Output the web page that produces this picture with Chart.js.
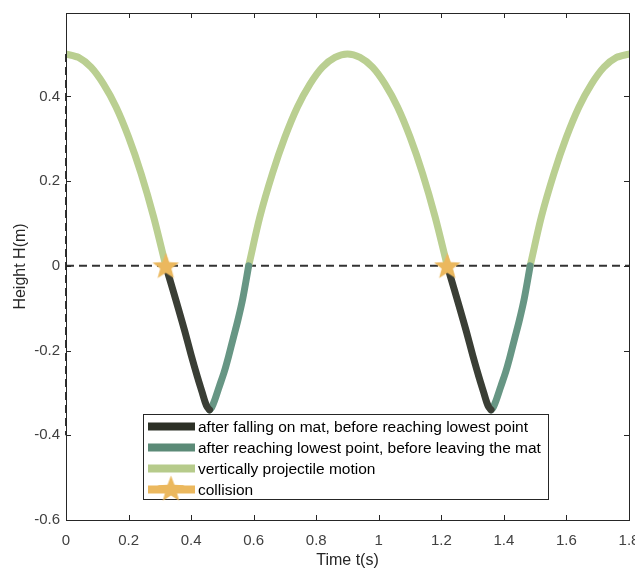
<!DOCTYPE html>
<html>
<head>
<meta charset="utf-8">
<script src="https://cdn.jsdelivr.net/npm/chart.js@4.4.1/dist/chart.umd.min.js"></script>
<style>
  html, body { margin: 0; padding: 0; background: #fff; }
  #chart { display: block; }
</style>
</head>
<body>
<canvas id="chart" width="635" height="570"></canvas>
<script>
// ---- data ----
// projectile phases
const flight1T = [0, 0.04, 0.08, 0.12, 0.16, 0.2, 0.24, 0.28, 0.319];
const flight1H = [0.5, 0.492, 0.469, 0.429, 0.375, 0.304, 0.218, 0.116, 0];
const flight2T = [0.584, 0.62, 0.66, 0.7, 0.74, 0.78, 0.82, 0.86, 0.9, 0.94, 0.98, 1.02, 1.06, 1.1, 1.14, 1.18, 1.219];
const flight2H = [0, 0.116, 0.218, 0.304, 0.375, 0.429, 0.469, 0.492, 0.5, 0.492, 0.469, 0.429, 0.375, 0.304, 0.218, 0.116, 0];
const flight3T = [1.484, 1.52, 1.56, 1.6, 1.64, 1.68, 1.72, 1.76, 1.8];
const flight3H = [0, 0.116, 0.218, 0.304, 0.375, 0.429, 0.469, 0.492, 0.5];

// on the mat, going down
const fall1T = [0.319, 0.34, 0.36, 0.38, 0.4, 0.42, 0.435, 0.445, 0.452, 0.459];
const fall1H = [0, -0.052, -0.103, -0.155, -0.21, -0.262, -0.298, -0.322, -0.334, -0.34];
const fall2T = [1.219, 1.24, 1.26, 1.28, 1.3, 1.32, 1.335, 1.345, 1.352, 1.359];
const fall2H = [0, -0.052, -0.103, -0.155, -0.21, -0.262, -0.298, -0.322, -0.334, -0.34];

// on the mat, coming back up
const rise1T = [0.459, 0.466, 0.475, 0.49, 0.506, 0.52, 0.535, 0.549, 0.565, 0.584];
const rise1H = [-0.34, -0.334, -0.318, -0.285, -0.25, -0.213, -0.17, -0.13, -0.078, 0];
const rise2T = [1.359, 1.366, 1.375, 1.39, 1.406, 1.42, 1.435, 1.449, 1.465, 1.484];
const rise2H = [-0.34, -0.334, -0.318, -0.285, -0.25, -0.213, -0.17, -0.13, -0.078, 0];

const collisionT = [0.319, 1.219];
const collisionH = [0, 0];

const zeroLineT = [0, 1.8];
const zeroLineH = [0, 0];
const startLineT = [0, 0];
const startLineH = [0.5, -0.4];

const xTicks = [0, 0.2, 0.4, 0.6, 0.8, 1, 1.2, 1.4, 1.6, 1.8];
const yTicks = [-0.6, -0.4, -0.2, 0, 0.2, 0.4];

// ---- styles ----
const colFall = "#3a3e35";
const colRise = "#679684";
const colFlight = "#bacf91";
const colStar = "#ebb85e";
const colAxis = "#262626";
const colText = "#404040";
const FONT = "'Liberation Sans', Arial, sans-serif";

// ---- helpers ----
function pts(xs, ys) {
  return xs.map((x, i) => ({ x: x, y: ys[i] }));
}

function fmt(v) {
  return String(Math.round(v * 10) / 10);
}

function makeStar(size, color) {
  const c = document.createElement("canvas");
  c.width = size;
  c.height = size;
  const g = c.getContext("2d");
  const cx = size / 2, cy = size / 2 + 1;
  const ro = size / 2 - 0.5, ri = ro * 0.42;
  g.beginPath();
  for (let i = 0; i < 10; i++) {
    const r = i % 2 === 0 ? ro : ri;
    const a = -Math.PI / 2 + (i * Math.PI) / 5;
    const px = cx + r * Math.cos(a), py = cy + r * Math.sin(a);
    if (i === 0) g.moveTo(px, py);
    else g.lineTo(px, py);
  }
  g.closePath();
  g.fillStyle = color;
  g.fill();
  return c;
}

const starImg = makeStar(29, colStar);

function curve(label, xs, ys, color, legend) {
  return {
    label: label,
    data: pts(xs, ys),
    showLine: true,
    borderColor: color,
    backgroundColor: color,
    borderWidth: 7,
    borderCapStyle: "round",
    borderJoinStyle: "round",
    pointRadius: 0,
    pointHoverRadius: 0,
    tension: 0.3,
    clip: 0,
    order: 5,
    legend: legend,
  };
}

function dashed(xs, ys) {
  return {
    label: "",
    data: pts(xs, ys),
    showLine: true,
    borderColor: "#333333",
    borderWidth: 2,
    borderDash: [8, 5],
    pointRadius: 0,
    pointHoverRadius: 0,
    clip: false,
    order: 10,
  };
}

// keep the plot box where the figure has it: no extra room for edge labels
function noEdgePad(s) {
  s.paddingLeft = 0;
  s.paddingRight = 0;
  s.paddingTop = 0;
  s.paddingBottom = 0;
}

// ---- plugins ----
const frame = {
  id: "frame",
  afterDatasetsDraw(chart) {
    const { ctx, chartArea: a, scales } = chart;
    ctx.save();
    ctx.strokeStyle = colAxis;
    ctx.lineWidth = 1;
    ctx.beginPath();
    xTicks.forEach((v) => {
      const px = Math.round(scales.x.getPixelForValue(v)) + 0.5;
      ctx.moveTo(px, a.bottom);
      ctx.lineTo(px, a.bottom - 5);
      ctx.moveTo(px, a.top);
      ctx.lineTo(px, a.top + 5);
    });
    yTicks.forEach((v) => {
      const py = Math.round(scales.y.getPixelForValue(v)) + 0.5;
      ctx.moveTo(a.left, py);
      ctx.lineTo(a.left + 5, py);
      ctx.moveTo(a.right, py);
      ctx.lineTo(a.right - 5, py);
    });
    ctx.stroke();
    ctx.strokeRect(Math.round(a.left) + 0.5, Math.round(a.top) + 0.5,
      Math.round(a.right - a.left), Math.round(a.bottom - a.top));
    ctx.restore();
  },
};

const boxLegend = {
  id: "boxLegend",
  afterDraw(chart) {
    const { ctx } = chart;
    const items = chart.data.datasets.filter((d) => d.legend);
    const bx = 143.5, by = 414.5, bw = 405, bh = 85;
    ctx.save();
    ctx.fillStyle = "#ffffff";
    ctx.fillRect(bx, by, bw, bh);
    ctx.strokeStyle = colAxis;
    ctx.lineWidth = 1;
    ctx.strokeRect(bx, by, bw, bh);
    ctx.font = "15.5px " + FONT;
    ctx.textBaseline = "middle";
    items.forEach((d, i) => {
      const y = by + 12 + i * 21;
      ctx.strokeStyle = d.legend;
      ctx.lineWidth = 8;
      ctx.beginPath();
      ctx.moveTo(148, y);
      ctx.lineTo(195, y);
      ctx.stroke();
      if (d.pointStyle) ctx.drawImage(d.pointStyle, 171 - 14.5, y - 15.5);
      ctx.fillStyle = "#000000";
      ctx.fillText(d.label, 198, y + 1);
    });
    ctx.restore();
  },
};

// ---- chart ----
const datasets = [
  {
    label: "collision",
    data: pts(collisionT, collisionH),
    pointStyle: starImg,
    pointRadius: 14,
    pointHoverRadius: 14,
    showLine: false,
    clip: false,
    order: 0,
    legend: colStar,
  },
  curve("after falling on mat, before reaching lowest point", fall1T, fall1H, colFall, "#2c3026"),
  curve("after reaching lowest point, before leaving the mat", rise1T, rise1H, colRise, "#5b8a77"),
  curve("vertically projectile motion", flight1T, flight1H, colFlight, "#b6cb8b"),
  curve("", fall2T, fall2H, colFall, null),
  curve("", rise2T, rise2H, colRise, null),
  curve("", flight2T, flight2H, colFlight, null),
  curve("", flight3T, flight3H, colFlight, null),
  dashed(zeroLineT, zeroLineH),
  dashed(startLineT, startLineH),
];

// legend order: fall, rise, flight, collision
const legendOrder = [1, 2, 3, 0];
const ordered = legendOrder.map((i) => datasets[i]).concat(datasets.filter((d, i) => legendOrder.indexOf(i) < 0));

new Chart(document.getElementById("chart"), {
  type: "scatter",
  data: { datasets: ordered },
  plugins: [frame, boxLegend],
  options: {
    responsive: false,
    animation: false,
    layout: { autoPadding: false, padding: { top: 13, right: 6, left: 0, bottom: 0 } },
    plugins: { legend: { display: false }, tooltip: { enabled: false } },
    scales: {
      x: {
        type: "linear",
        min: 0,
        max: 1.8,
        grid: { display: false, drawTicks: false },
        border: { display: false },
        ticks: {
          color: colText,
          font: { family: FONT, size: 15 },
          padding: 12,
          maxRotation: 0,
          autoSkip: false,
          callback: fmt,
        },
        title: {
          display: true,
          text: "Time t(s)",
          color: colAxis,
          font: { family: FONT, size: 16 },
          padding: { top: 0, bottom: 0 },
        },
        afterBuildTicks: (s) => { s.ticks = xTicks.map((v) => ({ value: v })); },
        afterFit: (s) => { s.height = 50; noEdgePad(s); },
      },
      y: {
        type: "linear",
        min: -0.6,
        max: 0.597,
        grid: { display: false, drawTicks: false },
        border: { display: false },
        ticks: {
          color: colText,
          font: { family: FONT, size: 15 },
          padding: 6,
          autoSkip: false,
          callback: fmt,
        },
        title: {
          display: true,
          text: "Height H(m)",
          color: colAxis,
          font: { family: FONT, size: 16 },
          padding: { top: 11, bottom: 0 },
        },
        afterBuildTicks: (s) => { s.ticks = yTicks.map((v) => ({ value: v })); },
        afterFit: (s) => { s.width = 66; noEdgePad(s); },
      },
    },
  },
});
</script>
</body>
</html>
